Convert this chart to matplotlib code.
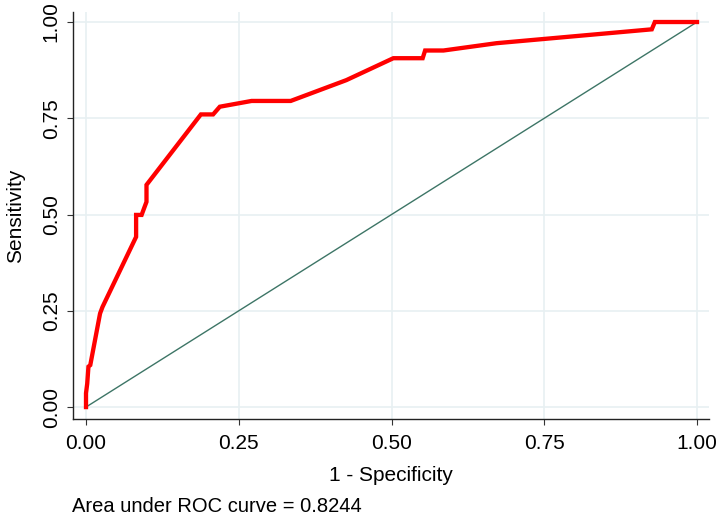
import matplotlib
matplotlib.use('Agg')
import matplotlib.pyplot as plt

plt.rcParams['font.family'] = ['Liberation Sans Narrow', 'Liberation Sans', 'DejaVu Sans']

# ROC curve
fpr = [0.0, 0.0, 0.002, 0.004, 0.007, 0.023, 0.027, 0.082, 0.082, 0.091, 0.099, 0.099,
       0.188, 0.208, 0.219, 0.271, 0.335, 0.426, 0.503, 0.551, 0.555, 0.585, 0.672,
       0.926, 0.931, 1.0]
tpr = [0.0, 0.036, 0.061, 0.105, 0.109, 0.243, 0.260, 0.442, 0.499, 0.499, 0.533, 0.577,
       0.760, 0.760, 0.780, 0.795, 0.795, 0.849, 0.906, 0.906, 0.926, 0.926, 0.945,
       0.981, 1.0, 1.0]
ref_x = [0.0, 1.0]
ref_y = [0.0, 1.0]
ticks = [0.0, 0.25, 0.5, 0.75, 1.0]
tick_labels = ['0.00', '0.25', '0.50', '0.75', '1.00']
auc = 0.8244

fig = plt.figure(figsize=(7.2, 5.15), dpi=100)
ax = fig.add_axes([0.1018, 0.1864, 0.8829, 0.7903])

ax.plot(ref_x, ref_y, color='#3d7566', lw=1.0, zorder=2)
ax.plot(fpr, tpr, color='#ff0000', lw=3.1, solid_joinstyle='miter', zorder=3)

ax.set_xlim(-0.0208, 1.0196)
ax.set_ylim(-0.031, 1.026)
ax.set_xticks(ticks)
ax.set_xticklabels(tick_labels, fontsize=15)
ax.set_yticks(ticks)
ax.set_yticklabels(tick_labels, fontsize=15, rotation=90, va='center')
ax.tick_params(axis='both', length=4.5, width=0.8, color='#333333', pad=6)
ax.tick_params(axis='y', pad=4.5)

ax.grid(True, color='#e8f0f2', lw=1.2)
ax.set_axisbelow(True)
for s in ['top', 'right']:
    ax.spines[s].set_visible(False)
for s in ['left', 'bottom']:
    ax.spines[s].set_color('#222222')
    ax.spines[s].set_linewidth(1.0)

ax.set_xlabel('1 - Specificity', fontsize=15, labelpad=10)
ax.set_ylabel('Sensitivity', fontsize=15, labelpad=12)

fig.text(0.0995, 1 - 506 / 515, 'Area under ROC curve = %.4f' % auc, fontsize=14.5, va='center')

fig.savefig('out.png', dpi=100)
